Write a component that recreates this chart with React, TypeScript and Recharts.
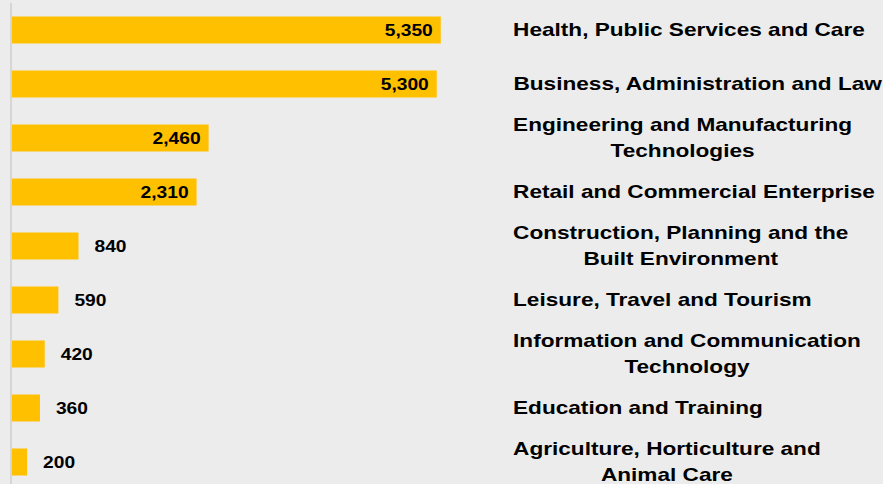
import { BarChart, Bar, XAxis, YAxis, LabelList, ReferenceLine } from 'recharts';

// Vacancies by sector, largest first
const categories = [
  'Health, Public Services and Care',
  'Business, Administration and Law',
  'Engineering and Manufacturing\nTechnologies',
  'Retail and Commercial Enterprise',
  'Construction, Planning and the\nBuilt Environment',
  'Leisure, Travel and Tourism',
  'Information and Communication\nTechnology',
  'Education and Training',
  'Agriculture, Horticulture and\nAnimal Care',
];
const vacancies = [5350, 5300, 2460, 2310, 840, 590, 420, 360, 200];

const data = categories.map((name, i) => ({ name, value: vacancies[i] }));

const FONT = '"Liberation Sans", Arial, Helvetica, sans-serif';
const BAR_COLOR = '#FFC000';
const BG = '#ECECEC';
const STRETCH = 1.19;
const LABEL_LEFT = 513;
const LINE_H = 26;

let ctx: CanvasRenderingContext2D | null = null;
function measure(text: string): number {
  if (!ctx && typeof document !== 'undefined') {
    ctx = document.createElement('canvas').getContext('2d');
  }
  if (!ctx) return text.length * 0.55 * 19;
  ctx.font = `bold 19px ${FONT}`;
  return ctx.measureText(text).width;
}

function CategoryTick({ y, payload }: any) {
  const lines = String(payload.value).split('\n');
  const widest = Math.max(...lines.map(measure));
  const cx = LABEL_LEFT + (widest * STRETCH) / 2;
  const top = -((lines.length - 1) * LINE_H) / 2;
  return (
    <g transform={`translate(${cx},${y}) scale(${STRETCH},1)`}>
      <text textAnchor="middle" fontSize={19} fontWeight="bold" fill="#000" fontFamily={FONT}>
        {lines.map((l, i) => (
          <tspan key={i} x={0} y={top + i * LINE_H + 6.3}>
            {l}
          </tspan>
        ))}
      </text>
    </g>
  );
}

function ValueLabel({ x, y, width, height, value }: any) {
  const inside = value >= 2000;
  const end = x + width;
  const tx = inside ? end - 8 : end + 16;
  return (
    <g transform={`translate(${tx},${y + height / 2}) scale(1.2,1)`}>
      <text
        textAnchor={inside ? 'end' : 'start'}
        y={5.8}
        fontSize={16}
        fontWeight="bold"
        fill="#000"
        fontFamily={FONT}
      >
        {Number(value).toLocaleString('en-US')}
      </text>
    </g>
  );
}

export default function App() {
  return (
    <div
      style={{
        position: 'absolute',
        top: 0,
        left: 0,
        width: 883,
        height: 484,
        overflow: 'hidden',
        background: BG,
      }}
    >
      <BarChart
        width={883}
        height={492}
        data={data}
        layout="vertical"
        margin={{ top: 3, right: 0, bottom: 3, left: 11 }}
        barCategoryGap="25%"
      >
        <XAxis type="number" domain={[0, 6000]} hide />
        <YAxis
          yAxisId="right"
          orientation="right"
          type="category"
          dataKey="name"
          width={390}
          tickLine={false}
          axisLine={false}
          interval={0}
          tick={<CategoryTick />}
        />
        <ReferenceLine x={0} yAxisId="right" stroke="#D6D6D6" strokeWidth={2} />
        <Bar dataKey="value" yAxisId="right" fill={BAR_COLOR} isAnimationActive={false}>
          <LabelList dataKey="value" content={<ValueLabel />} />
        </Bar>
      </BarChart>
    </div>
  );
}
